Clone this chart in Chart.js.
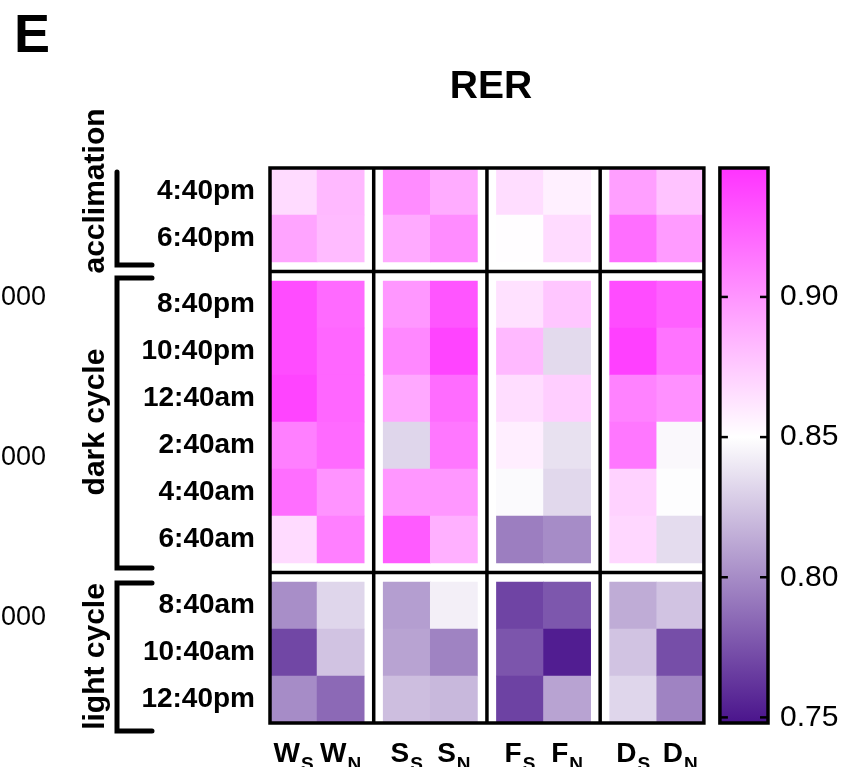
<!DOCTYPE html>
<html>
<head>
<meta charset="utf-8">
<script src="https://cdn.jsdelivr.net/npm/chart.js@4.4.1/dist/chart.umd.min.js"></script>
<style>
html, body { margin: 0; padding: 0; background: #ffffff; }
#wrap { width: 859px; height: 767px; position: relative; }
canvas { display: block; }
</style>
</head>
<body>
<div id="wrap"><canvas id="c" width="859" height="767"></canvas></div>
<script>
// ---------- data ----------
const rowLabels = ['4:40pm', '6:40pm', '8:40pm', '10:40pm', '12:40am', '2:40am', '4:40am', '6:40am', '8:40am', '10:40am', '12:40pm'];
const rowSection = [0, 0, 1, 1, 1, 1, 1, 1, 2, 2, 2];
const sectionNames = ['acclimation', 'dark cycle', 'light cycle'];
const colLetters = ['W', 'W', 'S', 'S', 'F', 'F', 'D', 'D'];
const colSubs = ['S', 'N', 'S', 'N', 'S', 'N', 'S', 'N'];
const colGroup = [0, 0, 1, 1, 2, 2, 3, 3];

// RER values per column (rows top to bottom)
const W_S = [0.867, 0.893, 0.934, 0.934, 0.938, 0.910, 0.918, 0.867, 0.801, 0.770, 0.800];
const W_N = [0.883, 0.882, 0.920, 0.922, 0.922, 0.920, 0.901, 0.910, 0.832, 0.824, 0.785];
const S_S = [0.904, 0.890, 0.899, 0.906, 0.891, 0.832, 0.899, 0.927, 0.808, 0.810, 0.822];
const S_N = [0.889, 0.904, 0.930, 0.938, 0.919, 0.914, 0.899, 0.887, 0.843, 0.796, 0.819];
const F_S = [0.866, 0.851, 0.864, 0.883, 0.866, 0.858, 0.848, 0.794, 0.769, 0.776, 0.768];
const F_N = [0.857, 0.867, 0.877, 0.834, 0.873, 0.837, 0.833, 0.800, 0.777, 0.752, 0.810];
const D_S = [0.895, 0.918, 0.934, 0.940, 0.909, 0.914, 0.871, 0.869, 0.814, 0.824, 0.832];
const D_N = [0.878, 0.897, 0.925, 0.916, 0.902, 0.847, 0.849, 0.835, 0.824, 0.773, 0.796];
const seriesValues = [W_S, W_N, S_S, S_N, F_S, F_N, D_S, D_N];

const colorbarTicks = [0.75, 0.80, 0.85, 0.90];
const colorbarMin = 0.748;
const colorbarMid = 0.85;
const colorbarMax = 0.946;
const sideLabels = ['000', '000', '000'];

// ---------- layout constants (cell units) ----------
const GAP = 19 / 47;
const CB_GAP = 16 / 47;
const CB_W = 48 / 47;
const HEAT_W = 8 + 3 * GAP;
const HEAT_H = 11 + 2 * GAP;
const XMAX = HEAT_W + CB_GAP + CB_W;
const CB_CENTER = HEAT_W + CB_GAP + CB_W / 2;

const FONT = '"Liberation Sans", Arial, Helvetica, sans-serif';
const LOW = [74, 20, 140], MID = [255, 255, 255], HIGH = [255, 51, 255];

function mix(a, b, t) {
  return 'rgb(' + a.map((v, i) => Math.round(v + (b[i] - v) * t)).join(',') + ')';
}
function colorFor(v) {
  if (v <= colorbarMid) {
    const t = Math.max(0, Math.min(1, (v - colorbarMin) / (colorbarMid - colorbarMin)));
    return mix(LOW, MID, t);
  }
  const t = Math.max(0, Math.min(1, (v - colorbarMid) / (colorbarMax - colorbarMid)));
  return mix(MID, HIGH, t);
}
const rowTop = r => r + rowSection[r] * GAP;
const colLeft = c => c + colGroup[c] * GAP;

const cells = [];
seriesValues.forEach((vals, c) => {
  vals.forEach((v, r) => {
    cells.push({ x: colLeft(c) + 0.5, y: [rowTop(r), rowTop(r) + 1], v: v });
  });
});

function sectionBounds(s) {
  const idx = rowSection.map((sec, i) => sec === s ? i : -1).filter(i => i >= 0);
  return [rowTop(idx[0]), rowTop(idx[idx.length - 1]) + 1];
}

const decor = {
  id: 'decor',
  afterDatasetsDraw(chart) {
    const { ctx } = chart;
    const xs = chart.scales.x, ys = chart.scales.y, y2 = chart.scales.y2;
    const L = xs.getPixelForValue(0), R = xs.getPixelForValue(HEAT_W);
    const T = ys.getPixelForValue(0), B = ys.getPixelForValue(HEAT_H);
    ctx.save();
    ctx.strokeStyle = '#000';
    ctx.lineWidth = 3.5;
    for (let k = 0; k < 3; k++) {
      const xv = xs.getPixelForValue(2 * (k + 1) + k * GAP + GAP / 2);
      ctx.beginPath(); ctx.moveTo(xv, T); ctx.lineTo(xv, B); ctx.stroke();
    }
    [2 + GAP / 2, 8 + GAP + GAP / 2].forEach(v => {
      const yv = ys.getPixelForValue(v);
      ctx.beginPath(); ctx.moveTo(L, yv); ctx.lineTo(R, yv); ctx.stroke();
    });
    ctx.strokeRect(L, T, R - L, B - T);
    const cL = xs.getPixelForValue(HEAT_W + CB_GAP), cR = xs.getPixelForValue(XMAX);
    const cT = y2.getPixelForValue(colorbarMax), cB = y2.getPixelForValue(colorbarMin);
    ctx.strokeRect(cL, cT, cR - cL, cB - cT);
    ctx.lineWidth = 2.5;
    colorbarTicks.forEach(v => {
      const yv = y2.getPixelForValue(v);
      ctx.beginPath(); ctx.moveTo(cL, yv); ctx.lineTo(cL + 8, yv); ctx.stroke();
      ctx.beginPath(); ctx.moveTo(cR - 8, yv); ctx.lineTo(cR, yv); ctx.stroke();
    });
    ctx.restore();
  },
  afterDraw(chart) {
    const { ctx } = chart;
    const xs = chart.scales.x, ys = chart.scales.y;
    ctx.save();
    ctx.fillStyle = '#000';
    ctx.strokeStyle = '#000';
    ctx.font = 'bold 54px ' + FONT;
    ctx.textAlign = 'left'; ctx.textBaseline = 'alphabetic';
    ctx.fillText('E', 14, 52);
    ctx.font = 'bold 39px ' + FONT;
    ctx.textAlign = 'center';
    ctx.fillText('RER', (xs.getPixelForValue(0) + xs.getPixelForValue(HEAT_W)) / 2 + 4, 98);
    ctx.font = '27px ' + FONT;
    ctx.textAlign = 'right'; ctx.textBaseline = 'middle';
    [298, 458, 618].forEach((yy, i) => ctx.fillText(sideLabels[i], 46, yy));
    ctx.lineWidth = 5; ctx.lineCap = 'round'; ctx.lineJoin = 'miter';
    const bx = 117, bx2 = 152;
    const offs = [[4, 3], [-3, 5], [1, 8]];
    const hasTop = [false, true, true];
    const labelOff = [-24, 0, 4];
    sectionNames.forEach((name, s) => {
      const [a, b] = sectionBounds(s);
      const ta = ys.getPixelForValue(a) + offs[s][0];
      const tb = ys.getPixelForValue(b) + offs[s][1];
      ctx.beginPath();
      if (hasTop[s]) { ctx.moveTo(bx2, ta); ctx.lineTo(bx, ta); } else { ctx.moveTo(bx, ta); }
      ctx.lineTo(bx, tb); ctx.lineTo(bx2, tb);
      ctx.stroke();
      const cy = ys.getPixelForValue((a + b) / 2) + labelOff[s];
      ctx.save();
      ctx.translate(104, cy);
      ctx.rotate(-Math.PI / 2);
      ctx.font = 'bold 30px ' + FONT;
      ctx.textAlign = 'center'; ctx.textBaseline = 'alphabetic';
      ctx.fillText(name, 0, 0);
      ctx.restore();
    });
    ctx.textAlign = 'left'; ctx.textBaseline = 'alphabetic';
    colLetters.forEach((letter, c) => {
      ctx.font = 'bold 28px ' + FONT;
      const wm = ctx.measureText(letter).width;
      ctx.font = 'bold 19px ' + FONT;
      const ws = ctx.measureText(colSubs[c]).width;
      const cx = xs.getPixelForValue(colLeft(c) + 0.5);
      const x0 = cx - (wm + ws + 1) / 2;
      ctx.font = 'bold 28px ' + FONT;
      ctx.fillText(letter, x0, 762);
      ctx.font = 'bold 19px ' + FONT;
      ctx.fillText(colSubs[c], x0 + wm + 1, 770);
    });
    ctx.restore();
  }
};

new Chart(document.getElementById('c'), {
  type: 'bar',
  data: {
    datasets: [
      {
        label: 'RER',
        data: cells,
        xAxisID: 'x',
        yAxisID: 'y',
        grouped: false,
        barPercentage: 1,
        categoryPercentage: 1,
        borderWidth: 0,
        borderSkipped: false,
        backgroundColor: ctx => colorFor(ctx.raw ? ctx.raw.v : colorbarMid)
      },
      {
        label: 'colour scale',
        data: [{ x: CB_CENTER, y: [colorbarMin, colorbarMax] }],
        xAxisID: 'x',
        yAxisID: 'y2',
        grouped: false,
        barThickness: 48,
        borderWidth: 0,
        borderSkipped: false,
        backgroundColor: ctx => {
          const chart = ctx.chart;
          if (!chart.chartArea) return '#ffffff';
          const s = chart.scales.y2;
          const p0 = s.getPixelForValue(colorbarMin), p1 = s.getPixelForValue(colorbarMax);
          const g = chart.ctx.createLinearGradient(0, p0, 0, p1);
          g.addColorStop(0, mix(LOW, MID, 0));
          g.addColorStop((colorbarMid - colorbarMin) / (colorbarMax - colorbarMin), mix(LOW, MID, 1));
          g.addColorStop(1, mix(MID, HIGH, 1));
          return g;
        }
      }
    ]
  },
  options: {
    responsive: false,
    animation: false,
    events: [],
    devicePixelRatio: 1,
    layout: { padding: { top: 168, bottom: 44, left: 0, right: 0 } },
    plugins: { legend: { display: false }, tooltip: { enabled: false }, title: { display: false } },
    scales: {
      x: {
        type: 'linear',
        display: false,
        offset: false,
        min: 0,
        max: XMAX,
        grid: { offset: false },
        afterBuildTicks: s => { s.ticks = colLetters.map((_, c) => ({ value: colLeft(c) + 0.5 })); }
      },
      y: {
        type: 'linear',
        position: 'left',
        reverse: true,
        offset: false,
        min: 0,
        max: HEAT_H,
        grid: { display: false, drawTicks: false },
        border: { display: false },
        afterBuildTicks: s => { s.ticks = rowLabels.map((_, r) => ({ value: rowTop(r) + 0.5 })); },
        afterFit: s => { s.width = 270; },
        ticks: {
          autoSkip: false,
          padding: 15,
          color: '#000',
          font: { family: FONT, size: 28, weight: 'bold' },
          callback: (v, i) => rowLabels[i]
        }
      },
      y2: {
        type: 'linear',
        position: 'right',
        offset: false,
        min: colorbarMin,
        max: colorbarMax,
        grid: { display: false, drawTicks: false },
        border: { display: false },
        afterBuildTicks: s => { s.ticks = colorbarTicks.map(v => ({ value: v })); },
        afterFit: s => { s.width = 91; },
        ticks: {
          autoSkip: false,
          padding: 12,
          color: '#000',
          font: { family: FONT, size: 30 },
          callback: v => Number(v).toFixed(2)
        }
      }
    }
  },
  plugins: [decor]
});
</script>
</body>
</html>
